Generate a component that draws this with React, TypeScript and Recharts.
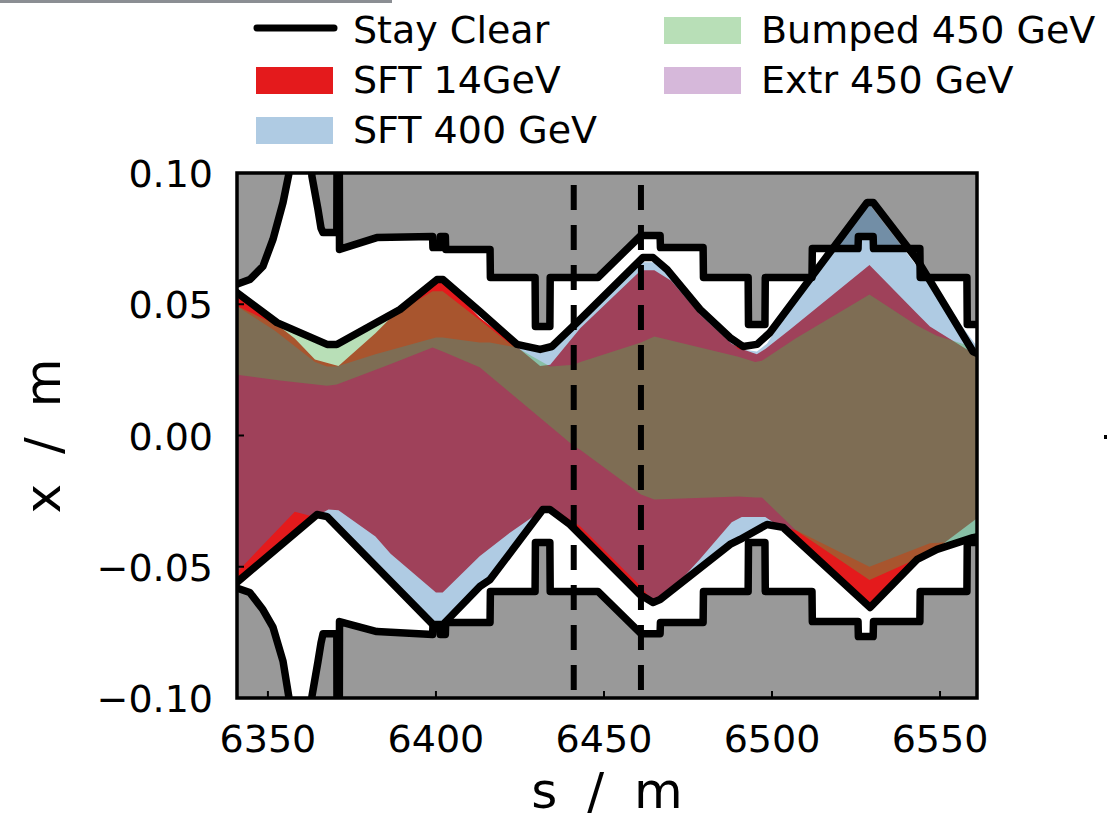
import React from "react";
import {
  ComposedChart,
  Area,
  Line,
  XAxis,
  YAxis,
  CartesianGrid,
  ReferenceLine,
  ReferenceArea,
  Legend,
} from "recharts";

const W = 1107;
const H = 820;
const FONT = "'DejaVu Sans', 'Liberation Sans', sans-serif";

const sDomain = [6340.8, 6561];
const xDomain = [-0.1, 0.1];
const sTicks = [6350, 6400, 6450, 6500, 6550];
const xTicks = [-0.1, -0.05, 0, 0.05, 0.1];
const markerS = [6441, 6461];

// aperture: grey outside, white inside
const apS = [
  6340.5, 6344.6, 6348.5, 6351.5, 6354.5, 6356.2, 6357.5, 6360, 6362.5, 6363.1, 6364.9, 6365.8, 6366.4,
  6370.5, 6370.6, 6371.2, 6371.3, 6382.4, 6399.0, 6399.1, 6401.2, 6401.3, 6402.8, 6402.9, 6416.1, 6416.2,
  6429.5, 6429.6, 6433.9, 6434.0, 6448.2, 6461.0, 6466.7, 6466.8, 6479.5, 6479.6, 6492.9, 6493.0, 6497.9,
  6498.0, 6511.9, 6512.0, 6525.6, 6525.7, 6530.1, 6530.2, 6544.0, 6544.1, 6558.0, 6558.1, 6561.5,
];
const apTop = [
  0.0575, 0.0594, 0.0644, 0.0747, 0.0888, 0.0994, 0.115, 0.13, 0.112, 0.0987, 0.0861, 0.079, 0.0773,
  0.0773, 0.13, 0.13, 0.0709, 0.0754, 0.0758, 0.0716, 0.0716, 0.0758, 0.0758, 0.0709, 0.0709, 0.0602,
  0.0602, 0.0415, 0.0415, 0.0602, 0.0602, 0.0762, 0.0762, 0.0716, 0.0716, 0.0602, 0.0602, 0.0423, 0.0423,
  0.0602, 0.0602, 0.0712, 0.0712, 0.0758, 0.0758, 0.0712, 0.0712, 0.0602, 0.0602, 0.0423, 0.0423,
];
const apBot = [
  -0.058, -0.0598, -0.0663, -0.073, -0.086, -0.0994, -0.115, -0.13, -0.112, -0.0994, -0.0861, -0.079, -0.0755,
  -0.0755, -0.13, -0.13, -0.0709, -0.0747, -0.0758, -0.0728, -0.0728, -0.0758, -0.0758, -0.0712, -0.0712, -0.0594,
  -0.0594, -0.0408, -0.0408, -0.0594, -0.0594, -0.0755, -0.0755, -0.0712, -0.0712, -0.0594, -0.0594, -0.0408, -0.0408,
  -0.0594, -0.0594, -0.0709, -0.0709, -0.0766, -0.0766, -0.0709, -0.0709, -0.0594, -0.0594, -0.0408, -0.0408,
];

// stay clear envelope
const scUpS = [
  6340.5, 6352.7, 6367.6, 6370.5, 6389.3, 6400.3, 6402.1, 6413.1, 6424.1, 6431.0, 6434.5, 6442.9, 6461.6,
  6464.6, 6468.8, 6478.6, 6487.5, 6491.4, 6495.5, 6499.4, 6528.3, 6530.1, 6543.2, 6559.8, 6561.5,
];
const scUp = [
  0.0547, 0.043, 0.0347, 0.0347, 0.048, 0.0594, 0.0594, 0.0472, 0.0347, 0.0328, 0.0339, 0.0442, 0.0678,
  0.0678, 0.0632, 0.048, 0.0373, 0.0339, 0.0347, 0.0392, 0.0888, 0.0888, 0.067, 0.032, 0.031,
];
const scLoS = [
  6340.5, 6364.6, 6367.6, 6399.1, 6402.1, 6413.1, 6416.1, 6431.8, 6433.9, 6439.9, 6460.7, 6464.6, 6466.7,
  6487.5, 6490.5, 6498.5, 6503.3, 6529.2, 6543.2, 6549.1, 6559.8, 6561.5,
];
const scLo = [
  -0.0562, -0.0301, -0.0309, -0.072, -0.072, -0.0575, -0.0549, -0.0282, -0.0282, -0.0339, -0.0606, -0.0636,
  -0.0625, -0.0415, -0.0396, -0.0339, -0.035, -0.0655, -0.0472, -0.0434, -0.0389, -0.0385,
];

// SFT 14GeV
const sft14S = [
  6340.5, 6352, 6358, 6364, 6368, 6371, 6382, 6386.5, 6400, 6402, 6413, 6422, 6431, 6434, 6443, 6461, 6465,
  6470, 6478.6, 6488, 6491, 6495.5, 6498, 6505, 6529, 6543, 6547, 6561.5,
];
const sft14Top = [
  0.0545, 0.043, 0.037, 0.029, 0.0275, 0.0265, 0.039, 0.0448, 0.0595, 0.0595, 0.045, 0.036, 0.0265, 0.027,
  0.041, 0.063, 0.063, 0.059, 0.046, 0.035, 0.033, 0.031, 0.033, 0.04, 0.065, 0.0467, 0.0415, 0.03,
];
const sft14Bot = [
  -0.058, -0.045, -0.038, -0.031, -0.0282, -0.0285, -0.0385, -0.045, -0.0598, -0.0598, -0.046, -0.037, -0.029,
  -0.029, -0.036, -0.0612, -0.064, -0.059, -0.047, -0.033, -0.031, -0.031, -0.031, -0.037, -0.066, -0.048,
  -0.045, -0.031,
];

// SFT 400 GeV
const sft400S = [
  6340.5, 6352, 6358, 6364, 6367.6, 6370.5, 6382, 6400, 6402, 6413, 6416, 6422, 6426, 6430, 6434, 6443, 6461,
  6465, 6470, 6478.6, 6490, 6495.5, 6498.5, 6507, 6529, 6547, 6561.5,
];
const sft400Top = [
  0.0495, 0.04, 0.034, 0.028, 0.0263, 0.0263, 0.031, 0.0373, 0.0373, 0.0354, 0.0354, 0.034, 0.033, 0.033,
  0.033, 0.043, 0.066, 0.066, 0.061, 0.047, 0.033, 0.032, 0.035, 0.052, 0.088, 0.058, 0.033,
];
const sft400Bot = [
  -0.0525, -0.037, -0.029, -0.031, -0.0315, -0.035, -0.05, -0.0725, -0.0725, -0.0578, -0.055, -0.045, -0.038,
  -0.0295, -0.027, -0.0347, -0.0575, -0.064, -0.06, -0.05, -0.0398, -0.036, -0.034, -0.036, -0.05, -0.041,
  -0.04,
];

// Bumped 450 GeV
const bumpS = [
  6340.5, 6353.6, 6367.6, 6370.5, 6386, 6399, 6402, 6413, 6422, 6434, 6441, 6443, 6461, 6465, 6490, 6495,
  6497, 6507, 6529, 6543, 6549, 6561.5,
];
const bumpTop = [
  0.0495, 0.0415, 0.034, 0.0345, 0.045, 0.055, 0.055, 0.044, 0.035, 0.0263, 0.027, 0.028, 0.0354, 0.0377,
  0.03, 0.028, 0.0285, 0.037, 0.0537, 0.042, 0.038, 0.033,
];
const bumpBot = [
  0.0232, 0.021, 0.019, 0.0194, 0.027, 0.0335, 0.032, 0.026, 0.0164, 0.0035, -0.004, -0.0055, -0.0225,
  -0.0244, -0.0232, -0.0236, -0.0236, -0.036, -0.055, -0.047, -0.043, -0.04,
];

// Extr 450 GeV
const extrS = [6340.5, 6400, 6461, 6529, 6561.5];
const extrTop = [0.012, 0.016, 0.014, 0.018, 0.012];
const extrBot = [-0.014, -0.016, -0.018, -0.018, -0.012];

const band = (s: number[], lo: number[], hi: number[]) => s.map((v, i) => ({ s: v, x: [lo[i], hi[i]] }));
const curve = (s: number[], x: number[]) => s.map((v, i) => ({ s: v, x: x[i] }));

const legendItems = [
  { label: "Stay Clear", kind: "line", color: "#000000", opacity: 1, col: 0, row: 0 },
  { label: "SFT 14GeV", kind: "patch", color: "#e41a1c", opacity: 1, col: 0, row: 1 },
  { label: "SFT 400 GeV", kind: "patch", color: "#377eb8", opacity: 0.4, col: 0, row: 2 },
  { label: "Bumped 450 GeV", kind: "patch", color: "#4daf4a", opacity: 0.4, col: 1, row: 0 },
  { label: "Extr 450 GeV", kind: "patch", color: "#984ea3", opacity: 0.4, col: 1, row: 1 },
];

function LegendBox() {
  const colX = [256, 664];
  const rowY = [43, 93, 143];
  return (
    <svg width={W} height={160} style={{ display: "block" }}>
      {legendItems.map((it) => {
        const x = colX[it.col];
        const y = rowY[it.row];
        return (
          <g key={it.label}>
            {it.kind === "line" ? (
              <line x1={x + 1} x2={x + 78} y1={y - 15} y2={y - 15} stroke={it.color} strokeWidth={7} strokeLinecap="round" />
            ) : (
              <rect x={x} y={y - 26} width={77} height={27} fill={it.color} fillOpacity={it.opacity} />
            )}
            <text x={x + 97} y={y} fontSize={38} fontFamily={FONT} fill="#000">
              {it.label}
            </text>
          </g>
        );
      })}
    </svg>
  );
}

const fmtX = (v: number) => (v < 0 ? "\u2212" + Math.abs(v).toFixed(2) : v.toFixed(2));

function STick(props: any) {
  const { x, y, payload } = props;
  return (
    <g>
      <line x1={x} x2={x} y1={y} y2={y - 7} stroke="#000" strokeWidth={2} />
      <text x={x} y={y + 54} textAnchor="middle" fontSize={38} fontFamily={FONT} fill="#000">
        {payload.value}
      </text>
    </g>
  );
}

function XTick(props: any) {
  const { x, y, payload } = props;
  return (
    <g>
      <line x1={x} x2={x + 7} y1={y} y2={y} stroke="#000" strokeWidth={2} />
      <text x={x - 24} y={y + 14} textAnchor="end" fontSize={38} fontFamily={FONT} fill="#000">
        {fmtX(payload.value)}
      </text>
    </g>
  );
}

export default function App() {
  return (
    <div style={{ position: "absolute", left: 0, top: 0, width: W, height: H, background: "#fff", fontFamily: FONT }}>
      <div style={{ position: "absolute", left: 0, top: 0, width: 392, height: 3, background: "#8b8e93" }} />
      <div style={{ position: "absolute", left: 1104, top: 435, width: 3, height: 4, background: "#000" }} />
      <svg width={W} height={H} style={{ position: "absolute", left: 0, top: 0, pointerEvents: "none" }}>
        <text x={60} y={436} transform="rotate(-90, 60, 436)" textAnchor="middle" fontSize={50}
          fontFamily={FONT} fill="#000" style={{ wordSpacing: 14 }}>
          x / m
        </text>
        <text x={607} y={808} textAnchor="middle" fontSize={50} fontFamily={FONT} fill="#000"
          style={{ wordSpacing: 14 }}>
          s / m
        </text>
      </svg>
      <div style={{ position: "absolute", left: 0, top: 0 }}>
        <ComposedChart width={W} height={H} margin={{ top: 173, right: 130, bottom: 62, left: 157 }}>
          <CartesianGrid horizontal={false} vertical={false} fill="#999999" fillOpacity={1} />
          <XAxis type="number" dataKey="s" domain={sDomain} allowDataOverflow ticks={sTicks} interval={0}
            height={60} tickSize={0} tickMargin={0} axisLine={false} tickLine={false}
            tick={(p: any) => <STick {...p} />} />
          <YAxis type="number" domain={xDomain} allowDataOverflow ticks={xTicks} interval={0}
            width={80} tickSize={0} tickMargin={0} axisLine={false} tickLine={false}
            tick={(p: any) => <XTick {...p} />} />
          <Legend verticalAlign="middle" align="center" layout="horizontal" content={() => <LegendBox />}
            wrapperStyle={{ position: "absolute", left: 0, top: 0, width: W, height: 160 }} />

          <Area data={band(apS, apBot, apTop)} dataKey="x" type="linear" stroke="none" fill="#ffffff" fillOpacity={1}
            isAnimationActive={false} dot={false} activeDot={false} legendType="none" />
          <Area data={band(extrS, extrBot, extrTop)} dataKey="x" type="linear" stroke="none" fill="#984ea3" fillOpacity={0.4}
            isAnimationActive={false} dot={false} activeDot={false} />
          <Area data={band(sft14S, sft14Bot, sft14Top)} dataKey="x" type="linear" stroke="none" fill="#e41a1c" fillOpacity={1}
            isAnimationActive={false} dot={false} activeDot={false} />
          <Area data={band(sft400S, sft400Bot, sft400Top)} dataKey="x" type="linear" stroke="none" fill="#377eb8" fillOpacity={0.4}
            isAnimationActive={false} dot={false} activeDot={false} />
          <Area data={band(bumpS, bumpBot, bumpTop)} dataKey="x" type="linear" stroke="none" fill="#4daf4a" fillOpacity={0.4}
            isAnimationActive={false} dot={false} activeDot={false} />

          <Line data={curve(apS, apTop)} dataKey="x" type="linear" stroke="#000" strokeWidth={7.5} strokeLinejoin="round"
            dot={false} activeDot={false} isAnimationActive={false} />
          <Line data={curve(apS, apBot)} dataKey="x" type="linear" stroke="#000" strokeWidth={7.5} strokeLinejoin="round"
            dot={false} activeDot={false} isAnimationActive={false} />
          <Line data={curve(scUpS, scUp)} dataKey="x" type="linear" stroke="#000" strokeWidth={7.5} strokeLinejoin="round"
            dot={false} activeDot={false} isAnimationActive={false} />
          <Line data={curve(scLoS, scLo)} dataKey="x" type="linear" stroke="#000" strokeWidth={7.5} strokeLinejoin="round"
            dot={false} activeDot={false} isAnimationActive={false} />

          {markerS.map((m) => (
            <ReferenceLine key={m} x={m} stroke="#000" strokeWidth={6} strokeDasharray="25 15" strokeDashoffset={32} />
          ))}
          <ReferenceArea x1={sDomain[0]} x2={sDomain[1]} y1={xDomain[0]} y2={xDomain[1]} fill="none"
            stroke="#000" strokeWidth={3.5} fillOpacity={0} />
        </ComposedChart>
      </div>
    </div>
  );
}
